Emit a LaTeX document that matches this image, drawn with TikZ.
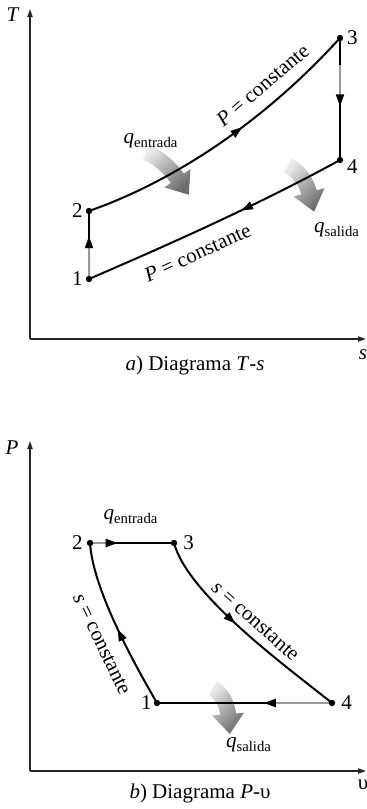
\documentclass[tikz,border=0pt]{standalone}
\usepackage{fontspec}
\setmainfont{Liberation Serif}
\usetikzlibrary{calc, positioning}
\usetikzlibrary{arrows.meta}
\usetikzlibrary{decorations.markings}

\tikzset{
  axisline/.style={line width=0.65pt, black!85, -{Triangle[length=4pt, width=2.6pt]}},
  cycleline/.style={line width=1pt, black},
  fadeline/.style={line width=1pt, black!40, -{Triangle[length=6pt, width=4pt, black]}},
  midarrow/.style={postaction={decorate}, decoration={markings,
      mark=at position #1 with {\arrow{Triangle[length=6pt, width=4pt]}}}},
  numlabel/.style={inner sep=0pt, font=\fontsize{10.5}{12}\selectfont},
  curvelabel/.style={sloped, inner sep=0pt, font=\fontsize{10.5}{12}\selectfont},
  heatshade/.style={top color=black!8, bottom color=black!58, shading angle=45},
}

% curved shaded arrow for the heat: centre x, centre y, radius, start angle, end angle
\newcommand{\heatarrow}[5]{%
  \pgfmathsetmacro{\hro}{#3+8}
  \pgfmathsetmacro{\hri}{#3-8}
  \pgfmathsetmacro{\hho}{#3+16}
  \pgfmathsetmacro{\hhi}{#3-16}
  \pgfmathsetmacro{\hdir}{#5+90}
  \shade[heatshade] ($(#1,#2)+(#4:\hro)$) arc[start angle=#4, end angle=#5, radius=\hro]
    -- ($(#1,#2)+(#5:\hho)$) -- ($(#1,#2)+(#5:#3)+(\hdir:20)$) -- ($(#1,#2)+(#5:\hhi)$)
    -- ($(#1,#2)+(#5:\hri)$) arc[start angle=#5, end angle=#4, radius=\hri] -- cycle;
}

\begin{document}
\begin{tikzpicture}[x=0.5pt, y=-0.5pt]
\useasboundingbox (0,0) rectangle (367,809);

% a) T-s
\coordinate (ots) at (30,339);
\coordinate (tts) at (30,9);
\coordinate (sts) at (366,339);
\coordinate (ts1) at (89,279);
\coordinate (ts2) at (89,211);
\coordinate (ts3) at (340,38);
\coordinate (ts4) at (340,160);

\draw[axisline] (ots) -- (tts);
\draw[axisline] (ots) -- (sts);
\node[numlabel] (lT) at (13,15) {\textit{T}};
\node[numlabel] (ls) at (363,355) {\textit{s}};

\heatarrow{112.6}{223.6}{79}{-65}{-35}
\heatarrow{265.5}{204}{45}{-60}{-15}

\draw[cycleline] (ts1) -- (ts2);
\draw[fadeline] ($(ts1)!0.04!(ts2)$) -- ($(ts1)!0.63!(ts2)$);
\draw[cycleline, midarrow=0.57] (ts2) .. controls (169,183) and (260,126) .. (ts3)
  node[curvelabel, pos=0.74, above=6pt] (cup) {\textit{P} = constante};
\draw[cycleline] (ts3) -- (ts4);
\draw[fadeline] ($(ts3)!0.22!(ts4)$) -- ($(ts3)!0.56!(ts4)$);
\draw[cycleline, midarrow=0.4] (ts4) .. controls (260,204) and (170,244) .. (ts1)
  node[curvelabel, pos=0.6, below=6pt] (clow) {\textit{P} = constante};

\foreach \p in {ts1,ts2,ts3,ts4}
  \fill (\p) circle[radius=1.6pt];

\node[numlabel, left=3pt of ts1] (n1) {1};
\node[numlabel, left=3pt of ts2] (n2) {2};
\node[numlabel, right=3.3pt of ts3] (n3) {3};
\node[numlabel, right=3.3pt of ts4, yshift=-3.3pt] (n4) {4};

\node[numlabel] (qin) at (151,141) {\textit{q}\textsubscript{entrada}};
\node[numlabel] (qout) at (337,230) {\textit{q}\textsubscript{salida}};

\node[numlabel] (capa) at (195,365) {\textit{a}) Diagrama \textit{T}-\textit{s}};

% b) P-v
\coordinate (opv) at (30,771);
\coordinate (ppv) at (30,441);
\coordinate (vpv) at (366,771);
\coordinate (pv1) at (157,703);
\coordinate (pv2) at (90,543);
\coordinate (pv3) at (174,543);
\coordinate (pv4) at (332,703);

\draw[axisline] (opv) -- (ppv);
\draw[axisline] (opv) -- (vpv);
\node[numlabel] (lP) at (12,448) {\textit{P}};
\node[numlabel] (lv) at (363,785) {υ};

\heatarrow{192.5}{717.2}{35.7}{-55}{-5}

\draw[cycleline, midarrow=0.48] (pv1) .. controls (135,665) and (93,590) .. (pv2)
  node[curvelabel, pos=0.45, below=7pt] (cleft) {\textit{s} = constante};
\draw[cycleline] (pv2) -- (pv3);
\draw[fadeline] ($(pv2)!0.04!(pv3)$) -- ($(pv2)!0.33!(pv3)$);
\draw[cycleline, midarrow=0.45] (pv3) .. controls (188,595) and (287,667) .. (pv4)
  node[curvelabel, pos=0.52, above=4pt] (cright) {\textit{s} = constante};
\draw[cycleline] (pv4) -- (pv1);
\draw[fadeline] ($(pv4)!0.02!(pv1)$) -- ($(pv4)!0.39!(pv1)$);

\foreach \p in {pv1,pv2,pv3,pv4}
  \fill (\p) circle[radius=1.6pt];

\node[numlabel, left=2.5pt of pv1] (m1) {1};
\node[numlabel, left=3.5pt of pv2] (m2) {2};
\node[numlabel, right=4.5pt of pv3] (m3) {3};
\node[numlabel, right=4.5pt of pv4] (m4) {4};

\node[numlabel] (qin2) at (131,517) {\textit{q}\textsubscript{entrada}};
\node[numlabel] (qout2) at (249,745) {\textit{q}\textsubscript{salida}};

\node[numlabel] (capb) at (200,793) {\textit{b}) Diagrama \textit{P}-υ};
\end{tikzpicture}
\end{document}
